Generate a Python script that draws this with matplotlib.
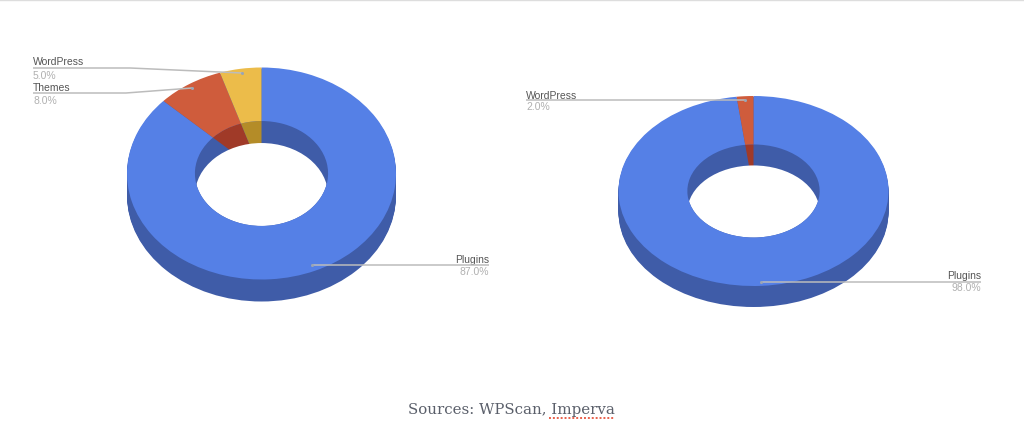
import matplotlib
matplotlib.use("Agg")
import numpy as np
import matplotlib.pyplot as plt
from matplotlib.patches import Wedge, Ellipse
from matplotlib.transforms import Affine2D

# ----- data -----
left_labels = ["Plugins", "Themes", "WordPress"]
left_values = [87.0, 8.0, 5.0]
right_labels = ["Plugins", "WordPress"]
right_values = [98.0, 2.0]

# slices take colours by position, as in the chart's palette
top_colors = ["#5580e6", "#cf5c3c", "#ecbc4a"]
wall_colors = ["#3f5ca8", "#a03a28", "#b48c28"]

LINE = "#bcbcbc"
PCT = "#b0b0b0"
NAME = "#555555"

plt.rcParams["font.family"] = ["Liberation Sans", "DejaVu Sans"]

fig = plt.figure(figsize=(10.24, 4.39), dpi=100)
ax = fig.add_axes([0, 0, 1, 1])
ax.set_xlim(0, 1024)
ax.set_ylim(439, 0)
ax.axis("off")


def unit(cx, cy, rx, ry):
    return Affine2D().scale(rx, ry).translate(cx, cy) + ax.transData


def donut(cx, cy, rx, ry, inner, depth, values):
    # side of the ring
    for dy in np.arange(1, depth + 1):
        ax.add_patch(Ellipse((cx, cy + dy), 2 * rx, 2 * ry, fc=wall_colors[0], ec="none", zorder=1))

    edges = -90 + np.cumsum([0] + list(values)) * 3.6
    # inner wall seen through the hole
    for i in range(len(values)):
        ax.add_patch(Wedge((0, 0), inner, edges[i], edges[i + 1], fc=wall_colors[i], ec="none",
                           transform=unit(cx, cy, rx, ry), zorder=2))
    hole_clip = Ellipse((cx, cy), 2 * rx * inner, 2 * ry * inner, transform=ax.transData)
    hole = Ellipse((cx, cy + depth), 2 * rx * inner, 2 * ry * inner, fc="white", ec="none", zorder=3)
    ax.add_patch(hole)
    hole.set_clip_path(hole_clip)
    # top face
    for i in range(len(values)):
        ax.add_patch(Wedge((0, 0), 1, edges[i], edges[i + 1], width=1 - inner, fc=top_colors[i], ec="none",
                           transform=unit(cx, cy, rx, ry), zorder=4))


def callout(xs, ys, name, pct, tx, ha, name_y, pct_y):
    ax.plot(xs, ys, color=LINE, lw=1.1, zorder=5, solid_capstyle="butt")
    ax.plot(xs[-1], ys[-1], "o", ms=2.2, color="#9aa5b5", zorder=6, mew=0)
    ax.text(tx, name_y, name, ha=ha, va="center", fontsize=7.5, color=NAME)
    ax.text(tx, pct_y, pct, ha=ha, va="center", fontsize=7.5, color=PCT)


donut(261.5, 174.5, 134.5, 106, 0.495, 22, left_values)
donut(753.5, 192, 135, 95, 0.49, 21, right_values)

callout([33, 130, 242], [69, 69, 74], left_labels[2], f"{left_values[2]}%", 33, "left", 62, 76)
callout([33, 126, 192], [94, 94, 89], left_labels[1], f"{left_values[1]}%", 33, "left", 88, 101)
callout([489, 312], [266, 266], left_labels[0], f"{left_values[0]}%", 489, "right", 260, 272)
callout([526, 745], [101, 101], right_labels[1], f"{right_values[1]}%", 526, "left", 96, 107)
callout([981, 761], [283, 283], right_labels[0], f"{right_values[0]}%", 981, "right", 276, 288)

ax.text(408, 410, "Sources: WPScan, Imperva", ha="left", va="center", fontsize=10.8,
        family=["DejaVu Serif"], color="#5a5f6a")
ax.plot([549, 614], [419.5, 419.5], color="#e8604c", lw=1.4, ls=(0, (1, 1)))
ax.plot([0, 1024], [0.5, 0.5], color="#dddddd", lw=1)

fig.savefig("out.png", dpi=100)
